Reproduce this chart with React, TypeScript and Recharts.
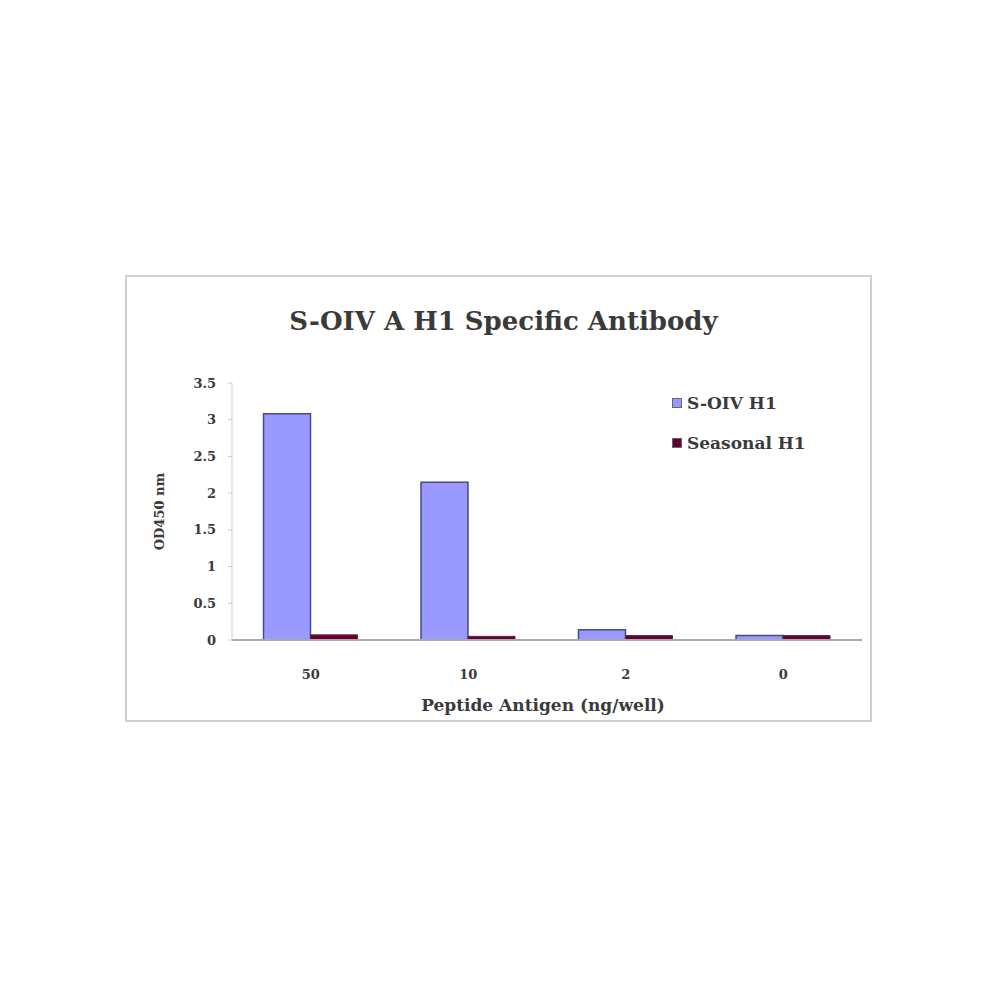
import { BarChart, Bar, XAxis, YAxis, Label } from "recharts";

const categories = ["50", "10", "2", "0"];
const soivH1 = [3.08, 2.15, 0.14, 0.06];
const seasonalH1 = [0.07, 0.05, 0.06, 0.06];
const yTicks = [0, 0.5, 1, 1.5, 2, 2.5, 3, 3.5];
const seriesNames = ["S-OIV H1", "Seasonal H1"];
const seriesColors = ["#9999FF", "#660033"];

const data = categories.map((c, i) => ({ name: c, soiv: soivH1[i], seasonal: seasonalH1[i] }));

const FONT = '"DejaVu Serif", "Liberation Serif", serif';
const INK = "#3a3a3a";

export default function App() {
  return (
    <div style={{ position: "absolute", left: 125, top: 275, width: 747, height: 447, border: "2px solid #cfcfcf", boxSizing: "border-box", background: "#fff" }}>
      <div style={{ position: "absolute", left: 0, right: 0, top: 29, textAlign: "center", fontFamily: FONT, fontWeight: 700, fontSize: 26, color: INK, paddingLeft: 10 }}>
        S-OIV A H1 Specific Antibody
      </div>
      {/* legend */}
      <div style={{ position: "absolute", left: 545, top: 106, fontFamily: FONT, fontWeight: 700, fontSize: 17, color: INK }}>
        {seriesNames.map((n, i) => (
          <div key={n} style={{ display: "flex", alignItems: "center", height: 40 }}>
            <span style={{ width: 8, height: 8, background: seriesColors[i], border: "1px solid #666", marginRight: 5 }} />
            {n}
          </div>
        ))}
      </div>
      <BarChart width={743} height={443} data={data} margin={{ top: 106, right: 8, left: 0, bottom: 0 }} barCategoryGap="20%" barGap={0}>
        <XAxis dataKey="name" height={80} axisLine={{ stroke: "#aaa", strokeWidth: 2 }} tickLine={false} tick={{ fontFamily: FONT, fontWeight: 700, fontSize: 13, fill: INK, dy: 22 }}>
          <Label value="Peptide Antigen (ng/well)" position="insideBottom" offset={9} dx={-4} style={{ fontFamily: FONT, fontWeight: 700, fontSize: 17, fill: INK }} />
        </XAxis>
        <YAxis domain={[0, 3.5]} ticks={yTicks} width={105} interval={0} axisLine={{ stroke: "#ccc" }} tickLine={{ stroke: "#ccc" }} tickSize={4} tickMargin={12} tick={{ fontFamily: FONT, fontWeight: 700, fontSize: 13, fill: INK }}>
          <Label value="OD450 nm" angle={-90} position="insideLeft" offset={32} style={{ fontFamily: FONT, fontWeight: 700, fontSize: 13, fill: INK, textAnchor: "middle" }} />
        </YAxis>
        <Bar dataKey="soiv" name={seriesNames[0]} fill={seriesColors[0]} stroke="#4a4a8a" strokeWidth={1.5} isAnimationActive={false} />
        <Bar dataKey="seasonal" name={seriesNames[1]} fill={seriesColors[1]} stroke="#5a2a3a" strokeWidth={1} isAnimationActive={false} />
      </BarChart>
    </div>
  );
}
